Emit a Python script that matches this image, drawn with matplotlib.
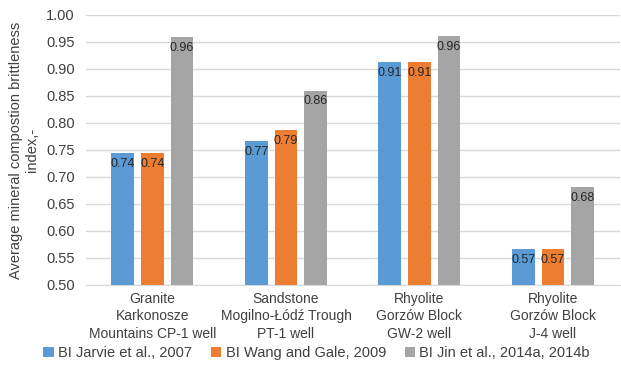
import numpy as np
import matplotlib.pyplot as plt

plt.rcParams['font.family'] = ['Liberation Sans', 'DejaVu Sans']

categories = ["Granite\nKarkonosze\nMountains CP-1 well",
              "Sandstone\nMogilno-Łódź Trough\nPT-1 well",
              "Rhyolite\nGorzów Block\nGW-2 well",
              "Rhyolite\nGorzów Block\nJ-4 well"]
series_names = ["BI Jarvie et al., 2007",
                "BI Wang and Gale, 2009",
                "BI Jin et al., 2014a, 2014b"]
jarvie = [0.744, 0.767, 0.912, 0.566]
wang = [0.744, 0.787, 0.912, 0.566]
jin = [0.959, 0.860, 0.961, 0.681]
colors = ["#5B9BD5", "#ED7D31", "#A5A5A5"]

fig = plt.figure(figsize=(6.21, 3.73), dpi=100)
ax = fig.add_axes([0.138, 0.236, 0.86, 0.724])

x = np.arange(len(categories))
width = 0.17
step = 0.222
for i, (vals, name, c) in enumerate(zip([jarvie, wang, jin], series_names, colors)):
    pos = x + (i - 1) * step
    ax.bar(pos, [v - 0.5 for v in vals], width, bottom=0.5, color=c,
           label=name, zorder=3)
    for xp, v in zip(pos, vals):
        ax.text(xp, v - 0.009, "%.2f" % v, ha='center', va='top',
                fontsize=9, color='#262626', zorder=4)

ax.set_ylim(0.5, 1.0)
ax.set_xlim(-0.5, 3.5)
ticks = np.arange(0.5, 1.001, 0.05)
ax.set_yticks(ticks)
ax.set_yticklabels(["%.2f" % t for t in ticks])
ax.set_xticks(x)
ax.set_xticklabels(categories, fontsize=10, color='#404040', linespacing=1.3)
ax.tick_params(axis='y', labelsize=10.5, colors='#404040', length=0, pad=8)
ax.tick_params(axis='x', length=0, pad=5)
ax.grid(axis='y', color='#D9D9D9', linewidth=1, zorder=0)
for s in ['top', 'right', 'left']:
    ax.spines[s].set_visible(False)
ax.spines['bottom'].set_color('#D9D9D9')
ax.set_ylabel("Average mineral compostion brittleness\nindex,-", fontsize=10.5,
              color='#404040', labelpad=5)

fig.legend(loc='lower center', bbox_to_anchor=(0.51, 0.0), ncol=3,
           frameon=False, fontsize=10.5, handlelength=0.7, handleheight=0.7,
           handletextpad=0.3, columnspacing=1.3, labelcolor='#404040')

fig.savefig("out.png", dpi=100)
